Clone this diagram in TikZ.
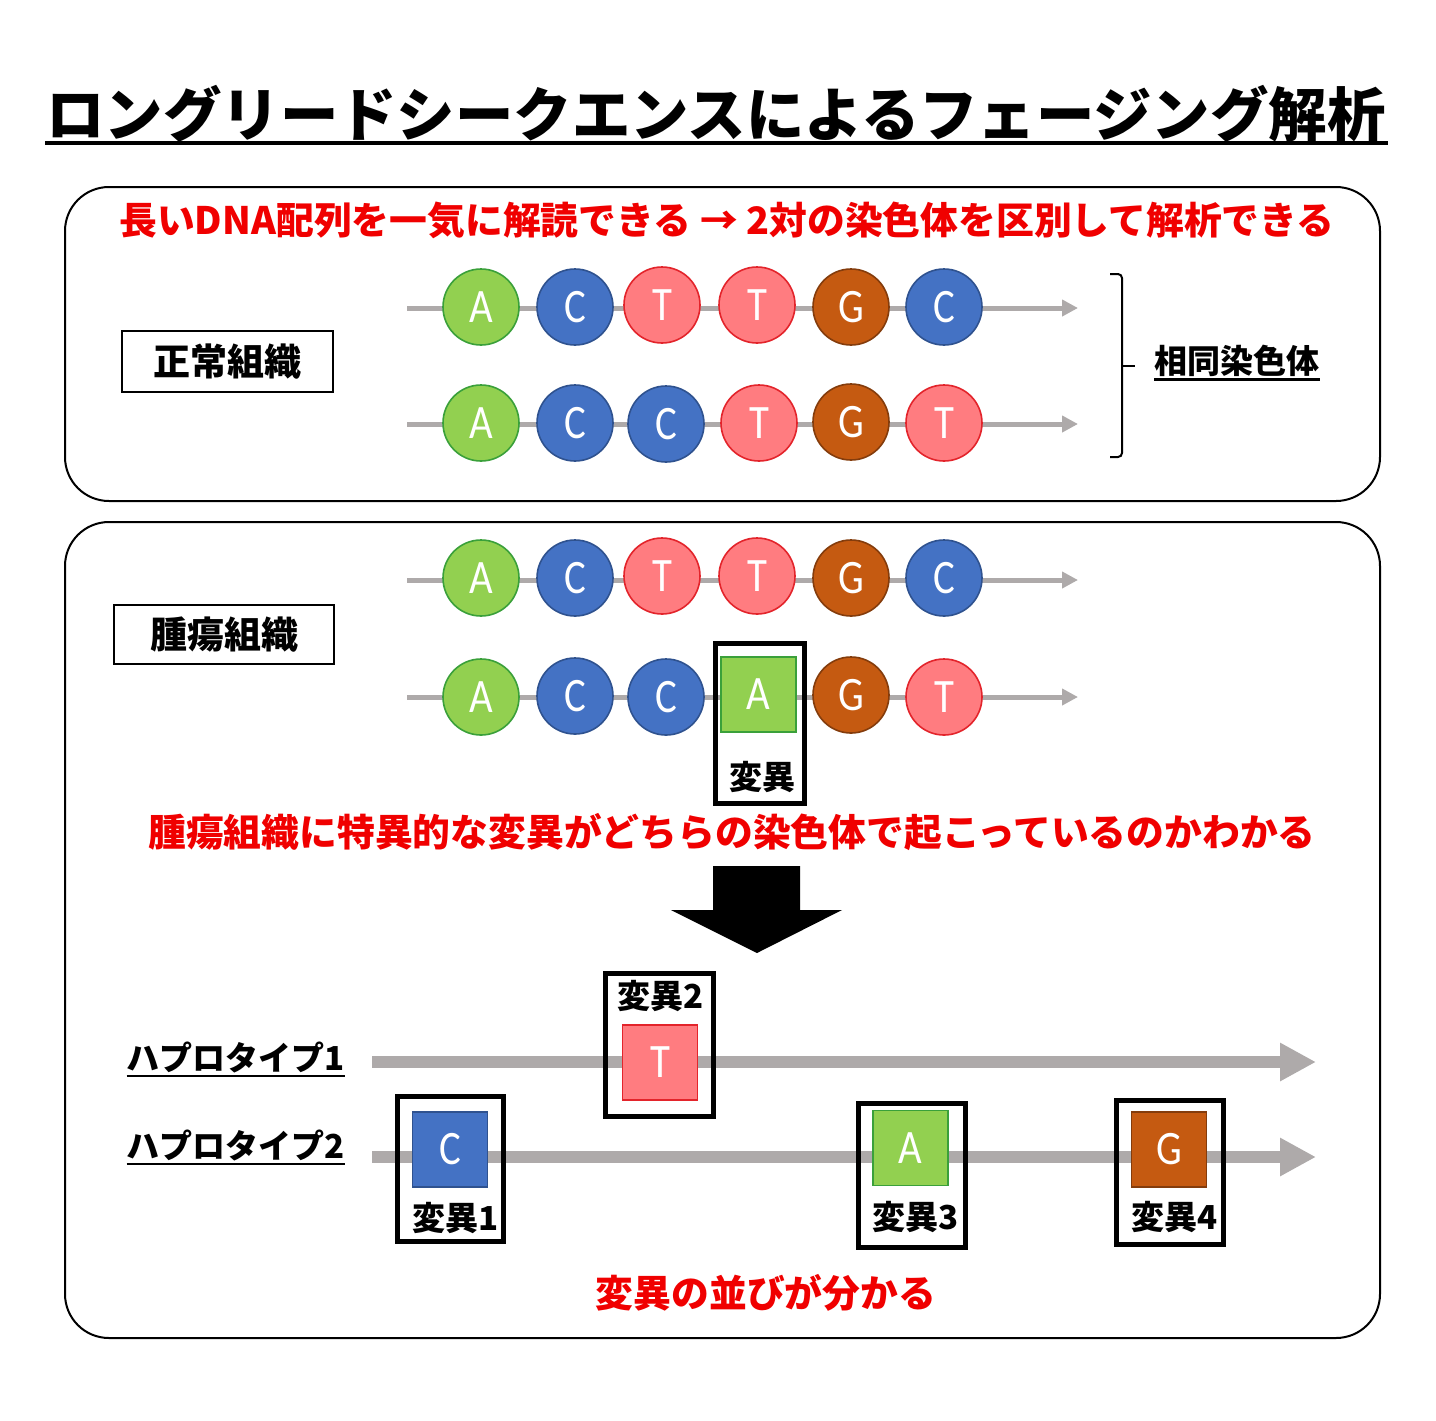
\documentclass[tikz,border=0pt]{standalone}
\usepackage{fontspec}
\newfontfamily\jp{Noto Sans CJK JP}
\newfontfamily\lat[FakeStretch=0.85]{Carlito}
\usetikzlibrary{arrows.meta}
\definecolor{agreen}{HTML}{92D050}
\definecolor{agreenb}{HTML}{3AA03A}
\definecolor{cblue}{HTML}{4472C4}
\definecolor{cblueb}{HTML}{2F528F}
\definecolor{tpink}{HTML}{FF7C80}
\definecolor{tpinkb}{HTML}{E3242B}
\definecolor{gbrown}{HTML}{C55A11}
\definecolor{gbrownb}{HTML}{843C0C}
\definecolor{dnagray}{HTML}{AEAAAA}
\definecolor{redtxt}{HTML}{F00000}
\tikzset{
  base/.style={circle, minimum size=38pt, inner sep=0pt, line width=0.8pt, text=white,
    font=\lat\fontsize{24}{24}\selectfont},
  nA/.style={base, fill=agreen, draw=agreenb},
  nC/.style={base, fill=cblue, draw=cblueb},
  nT/.style={base, fill=tpink, draw=tpinkb},
  nG/.style={base, fill=gbrown, draw=gbrownb},
  sqbase/.style={rectangle, minimum size=37.5pt, inner sep=0pt, line width=0.8pt, text=white,
    font=\lat\fontsize{24}{24}\selectfont},
  sA/.style={sqbase, fill=agreen, draw=agreenb},
  sC/.style={sqbase, fill=cblue, draw=cblueb},
  sT/.style={sqbase, fill=tpink, draw=tpinkb},
  sG/.style={sqbase, fill=gbrown, draw=gbrownb},
  dnaline/.style={draw=dnagray, line width=2.5pt, -{Triangle[length=8pt,width=8pt]}},
  hapline/.style={draw=dnagray, line width=6pt, -{Triangle[length=18pt,width=18pt]}},
  mutbox/.style={rectangle, draw=black, line width=2.5pt, inner sep=0pt},
  redlbl/.style={text=redtxt, inner sep=0pt, font=\jp\bfseries\fontsize{18.9}{18.9}\selectfont},
  blklbl/.style={inner sep=0pt, font=\jp\bfseries\fontsize{16.5}{16.5}\selectfont},
  tissue/.style={rectangle, draw=black, line width=0.8pt, inner sep=0pt,
    font=\jp\bfseries\fontsize{18.5}{18.5}\selectfont},
  panel/.style={rectangle, draw=black, line width=1pt, rounded corners=22pt},
}
\begin{document}
\begin{tikzpicture}[x=0.5pt,y=-0.5pt]
\useasboundingbox[fill=white] (0,0) rectangle (1436,1420);
% title
\node[inner sep=0pt, font=\jp\bfseries\fontsize{29.2}{29.2}\selectfont] (title) at (716,114) {ロングリードシークエンスによるフェージング解析};
\coordinate (tul) at (45,143);
\coordinate (tur) at (1388,143);
\draw[line width=2pt] (tul) -- (tur);
% panels
\node[panel, minimum width=657.5pt, minimum height=157pt] (p1) at (722.5,344) {};
\node[panel, minimum width=657.5pt, minimum height=408pt] (p2) at (722.5,930) {};
\node[redlbl] (r1) at (727,220) {長いDNA配列を一気に解読できる → 2対の染色体を区別して解析できる};
% normal tissue
\node[tissue, minimum width=105.5pt, minimum height=30.5pt] (normal) at (227.5,361.5) {正常組織};
\coordinate (a1s) at (407,308); \coordinate (a1e) at (1078,308);
\coordinate (a2s) at (407,424); \coordinate (a2e) at (1078,424);
\draw[dnaline] (a1s) -- (a1e);
\draw[dnaline] (a2s) -- (a2e);
\node[nA] (n11) at (481,307) {A};
\node[nC] (n12) at (575,307) {C};
\node[nT] (n13) at (662,305) {T};
\node[nT] (n14) at (757,305) {T};
\node[nG] (n15) at (851,307) {G};
\node[nC] (n16) at (944,307) {C};
\node[nA] (n21) at (481,423) {A};
\node[nC] (n22) at (575,423) {C};
\node[nC] (n23) at (666,424) {C};
\node[nT] (n24) at (759,423) {T};
\node[nG] (n25) at (851,422) {G};
\node[nT] (n26) at (944,423) {T};
% brace
\coordinate (bt) at (1110,274); \coordinate (bm) at (1122,366);
\coordinate (bb) at (1110,457); \coordinate (bk) at (1135,366);
\draw[line width=1pt, rounded corners=2pt] (bt) -| (bm) |- (bb);
\draw[line width=1pt] (bm) -- (bk);
\node[blklbl] (homo) at (1237,361) {相同染色体};
\draw[line width=1.2pt] ([yshift=-3pt]homo.base west) -- ([yshift=-3pt]homo.base east);
% tumor tissue
\node[tissue, minimum width=110pt, minimum height=29.5pt] (tumor) at (224,634.5) {腫瘍組織};
\coordinate (a3s) at (407,580); \coordinate (a3e) at (1078,580);
\coordinate (a4s) at (407,697); \coordinate (a4e) at (1078,697);
\draw[dnaline] (a3s) -- (a3e);
\draw[dnaline] (a4s) -- (a4e);
\node[nA] (n31) at (481,578) {A};
\node[nC] (n32) at (575,578) {C};
\node[nT] (n33) at (662,576) {T};
\node[nT] (n34) at (757,576) {T};
\node[nG] (n35) at (851,578) {G};
\node[nC] (n36) at (944,578) {C};
\node[nA] (n41) at (481,697) {A};
\node[nC] (n42) at (575,696) {C};
\node[nC] (n43) at (666,697) {C};
\node[sA] (n44) at (758.5,694.5) {A};
\node[nG] (n45) at (851,695) {G};
\node[nT] (n46) at (944,697) {T};
\node[mutbox, minimum width=44.5pt, minimum height=80pt] (m0) at (760,723.5) {};
\node[blklbl] (m0l) at (762,777) {変異};
\node[redlbl] (r2) at (732,832) {腫瘍組織に特異的な変異がどちらの染色体で起こっているのかわかる};
% big arrow
\fill[black] (713,866) -- (800,866) -- (800,910) -- (842,910) -- (757,953) -- (671,910) -- (713,910) -- cycle;
% haplotypes
\node[blklbl] (h1) at (236,1057) {ハプロタイプ1};
\node[blklbl] (h2) at (236,1145) {ハプロタイプ2};
\draw[line width=1.2pt] ([yshift=-3pt]h1.base west) -- ([yshift=-3pt]h1.base east);
\draw[line width=1.2pt] ([yshift=-3pt]h2.base west) -- ([yshift=-3pt]h2.base east);
\coordinate (h1s) at (372,1062); \coordinate (h1e) at (1316,1062);
\coordinate (h2s) at (372,1157); \coordinate (h2e) at (1316,1157);
\draw[hapline] (h1s) -- (h1e);
\draw[hapline] (h2s) -- (h2e);
\node[mutbox, minimum width=54pt, minimum height=71.5pt] (m2) at (659.5,1045) {};
\node[mutbox, minimum width=53pt, minimum height=72.5pt] (m1) at (450.5,1169) {};
\node[mutbox, minimum width=53.5pt, minimum height=72pt] (m3) at (912,1175.5) {};
\node[mutbox, minimum width=53.5pt, minimum height=72pt] (m4) at (1170,1172.5) {};
\node[sT] (q2) at (660,1062.5) {T};
\node[sC] (q1) at (450,1149.5) {C};
\node[sA] (q3) at (910.5,1148) {A};
\node[sG] (q4) at (1169,1149.5) {G};
\node[blklbl] (l2) at (661,996) {変異2};
\node[blklbl] (l1) at (456,1218) {変異1};
\node[blklbl] (l3) at (916,1217) {変異3};
\node[blklbl] (l4) at (1175,1217) {変異4};
\node[redlbl] (r3) at (766,1293) {変異の並びが分かる};
\end{tikzpicture}
\end{document}
